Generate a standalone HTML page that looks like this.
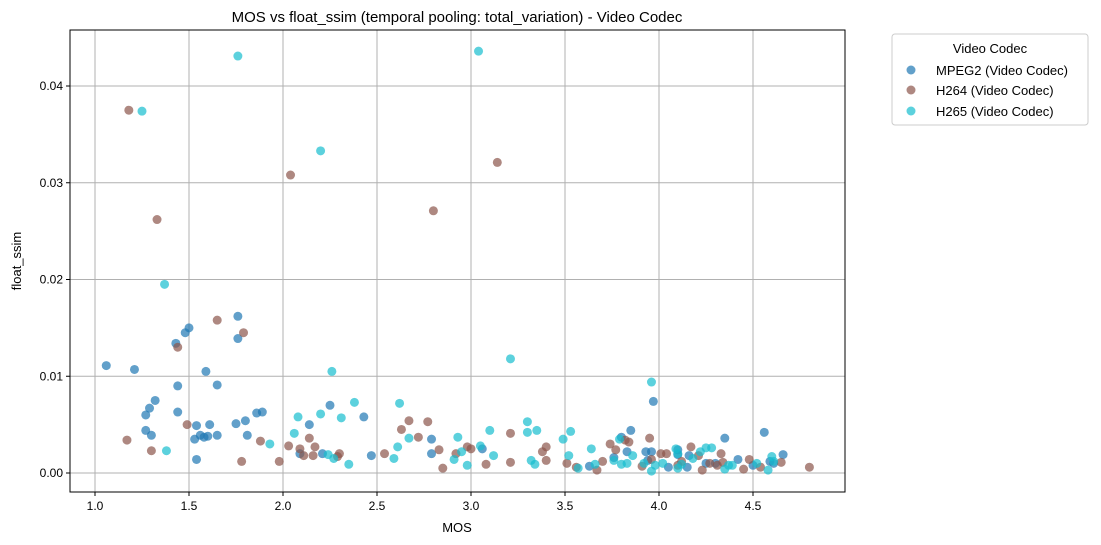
<!DOCTYPE html>
<html><head><meta charset="utf-8"><style>
html,body{margin:0;padding:0;background:#fff;}
svg{display:block;font-family:"Liberation Sans","DejaVu Sans",sans-serif;}
</style></head><body>
<svg id="chart" width="1101" height="545">
<text x="457" y="22" text-anchor="middle" font-size="15">MOS vs float_ssim (temporal pooling: total_variation) - Video Codec</text>
<g id="grid"></g>
<g id="points"></g>
<rect x="70" y="30" width="775" height="462" fill="none" stroke="#000" stroke-width="1"/>
<g id="axes"></g>
<text x="457" y="532" text-anchor="middle" font-size="13">MOS</text>
<text transform="translate(21,261) rotate(-90)" text-anchor="middle" font-size="13">float_ssim</text>
<g>
<rect x="892" y="34" width="196" height="91" rx="3" fill="#fff" stroke="#ccc"/>
<text x="990" y="53" text-anchor="middle" font-size="13">Video Codec</text>
<circle cx="911" cy="70" r="4.5" fill="#1f77b4" fill-opacity="0.7"/>
<text x="936" y="75" font-size="13">MPEG2 (Video Codec)</text>
<circle cx="911" cy="90" r="4.5" fill="#8c564b" fill-opacity="0.7"/>
<text x="936" y="95" font-size="13">H264 (Video Codec)</text>
<circle cx="911" cy="111" r="4.5" fill="#17becf" fill-opacity="0.7"/>
<text x="936" y="116" font-size="13">H265 (Video Codec)</text>
</g>
</svg>
<script>
const xTicks=[1.0,1.5,2.0,2.5,3.0,3.5,4.0,4.5];
const xTickLabels=["1.0","1.5","2.0","2.5","3.0","3.5","4.0","4.5"];
const yTicks=[0,0.01,0.02,0.03,0.04];
const yTickLabels=["0.00","0.01","0.02","0.03","0.04"];
const mpeg2=[[1.06,.0111],[1.21,.0107],[1.27,.0060],[1.27,.0044],[1.29,.0067],[1.30,.0039],[1.32,.0075],[1.43,.0134],[1.44,.0090],[1.44,.0063],[1.48,.0145],[1.50,.0150],[1.53,.0035],[1.54,.0049],[1.54,.0014],[1.56,.0039],[1.58,.0037],[1.59,.0105],[1.60,.0038],[1.61,.0050],[1.65,.0091],[1.65,.0039],[1.75,.0051],[1.76,.0162],[1.76,.0139],[1.80,.0054],[1.81,.0039],[1.86,.0062],[1.89,.0063],[2.09,.0020],[2.14,.0050],[2.21,.0020],[2.25,.0070],[2.43,.0058],[2.47,.0018],[2.79,.0035],[2.79,.0020],[3.06,.0025],[3.80,.0037],[3.85,.0044],[3.83,.0022],[3.76,.0016],[3.63,.0007],[3.93,.0022],[3.96,.0022],[3.97,.0074],[4.10,.0019],[4.15,.0006],[4.16,.0018],[4.35,.0036],[4.42,.0014],[4.50,.0008],[4.56,.0042],[4.59,.0012],[4.66,.0019],[4.61,.0010],[3.94,.0013],[4.05,.0006],[4.10,.0024],[4.25,.0010],[4.30,.0010]];
const h264=[[1.18,.0375],[1.33,.0262],[2.04,.0308],[2.80,.0271],[3.14,.0321],[1.44,.0130],[1.65,.0158],[1.79,.0145],[1.17,.0034],[1.30,.0023],[1.49,.0050],[1.78,.0012],[1.88,.0033],[1.98,.0012],[2.03,.0028],[2.09,.0025],[2.11,.0018],[2.14,.0036],[2.16,.0018],[2.17,.0027],[2.30,.0020],[2.29,.0017],[2.54,.0020],[2.63,.0045],[2.67,.0054],[2.72,.0037],[2.77,.0053],[2.83,.0024],[2.85,.0005],[2.92,.0020],[2.98,.0027],[3.08,.0009],[3.21,.0041],[3.21,.0011],[3.38,.0022],[3.40,.0027],[3.40,.0013],[3.51,.0010],[3.56,.0006],[3.67,.0003],[3.70,.0012],[3.74,.0030],[3.77,.0024],[3.82,.0034],[3.84,.0032],[3.91,.0007],[3.95,.0036],[3.96,.0014],[4.01,.0020],[4.04,.0020],[4.12,.0012],[4.17,.0027],[4.21,.0018],[4.23,.0003],[4.27,.0010],[4.31,.0008],[4.33,.0020],[4.34,.0011],[4.45,.0004],[4.48,.0014],[4.54,.0006],[4.65,.0011],[4.80,.0006],[3.00,.0025],[4.10,.0008]];
const h265=[[1.25,.0374],[1.76,.0431],[3.04,.0436],[2.20,.0333],[1.37,.0195],[3.21,.0118],[2.26,.0105],[3.96,.0094],[1.38,.0023],[1.93,.0030],[2.06,.0041],[2.08,.0058],[2.20,.0061],[2.24,.0019],[2.27,.0015],[2.31,.0057],[2.35,.0009],[2.38,.0073],[2.59,.0015],[2.61,.0027],[2.62,.0072],[2.67,.0036],[2.91,.0014],[2.93,.0037],[2.95,.0022],[2.98,.0008],[3.05,.0028],[3.10,.0044],[3.12,.0018],[3.30,.0053],[3.30,.0042],[3.32,.0013],[3.35,.0044],[3.34,.0009],[3.49,.0035],[3.52,.0018],[3.53,.0043],[3.57,.0005],[3.64,.0025],[3.66,.0009],[3.76,.0013],[3.79,.0035],[3.80,.0009],[3.83,.0010],[3.86,.0018],[3.92,.0010],[3.96,.0002],[3.98,.0008],[4.09,.0025],[4.10,.0020],[4.12,.0009],[4.18,.0015],[4.22,.0022],[4.25,.0026],[4.28,.0026],[4.35,.0004],[4.37,.0008],[4.39,.0008],[4.52,.0010],[4.58,.0003],[4.60,.0017],[4.61,.0012],[4.10,.0005],[4.02,.0010]];
const NS="http://www.w3.org/2000/svg";
const L=70,R=845,T=30,B=492;
const xMin=1-25/188,xMax=1+(845-95)/188;
const yMin=-19/9675,yMax=443/9675;
function sx(v){return L+(v-xMin)/(xMax-xMin)*(R-L);}
function sy(v){return B-(v-yMin)/(yMax-yMin)*(B-T);}
function mk(tag,attrs,parent){const e=document.createElementNS(NS,tag);for(const k in attrs)e.setAttribute(k,attrs[k]);parent.appendChild(e);return e;}
const grid=document.getElementById('grid'),axes=document.getElementById('axes'),pts=document.getElementById('points');
xTicks.forEach((t,i)=>{const x=sx(t);
 const g=mk('line',{x1:x,x2:x,y1:T,y2:B,stroke:'#b0b0b0','stroke-width':1},grid);
 
 
 const tk=mk('line',{x1:x,x2:x,y1:B,y2:B+4,stroke:'#000'},axes);
 
 
 const tx=mk('text',{x:x,y:B+18,'text-anchor':'middle','font-size':12},axes);tx.textContent=xTickLabels[i];
 
 
});
yTicks.forEach((t,i)=>{const y=sy(t);
 const g=mk('line',{x1:L,x2:R,y1:y,y2:y,stroke:'#b0b0b0','stroke-width':1},grid);
 
 
 const tk=mk('line',{x1:L-4,x2:L,y1:y,y2:y,stroke:'#000'},axes);
 
 
 const tx=mk('text',{x:L-7,y:y+4,'text-anchor':'end','font-size':12},axes);tx.textContent=yTickLabels[i];
 
 
});
[[mpeg2,'#1f77b4','point-mpeg2'],[h264,'#8c564b','point-h264'],[h265,'#17becf','point-h265']].forEach(([arr,col,nm])=>{
 arr.forEach(p=>{const c=mk('circle',{cx:sx(p[0]),cy:sy(p[1]),r:4.5,fill:col,'fill-opacity':0.7},pts);
  
  
 });
});
</script>
</body></html>
